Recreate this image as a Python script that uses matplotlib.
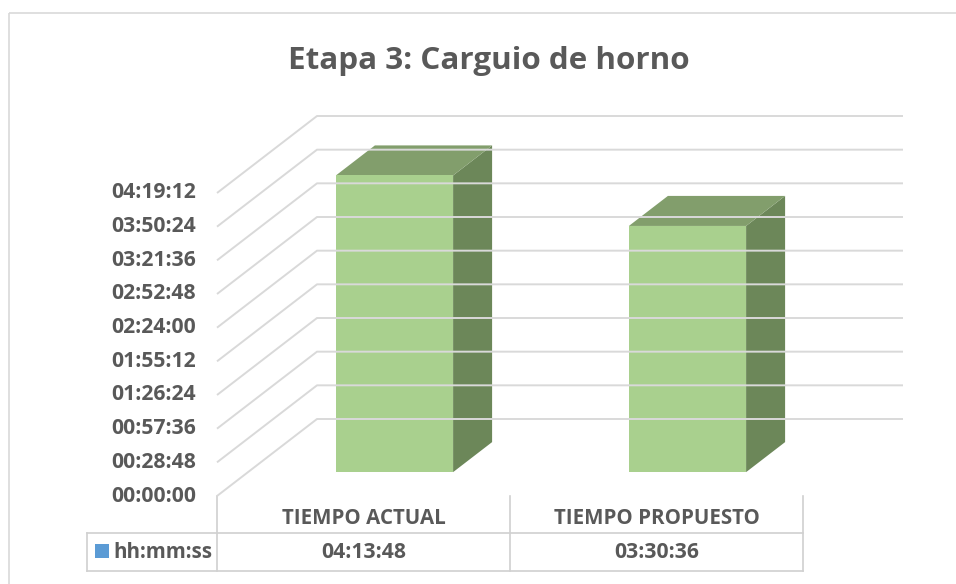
import matplotlib.pyplot as plt
from matplotlib.patches import Polygon, Rectangle

# Datos
categorias = ['TIEMPO ACTUAL', 'TIEMPO PROPUESTO']
tiempos = ['04:13:48', '03:30:36']
serie = 'hh:mm:ss'
titulo = 'Etapa 3: Carguio de horno'
paso_eje = 1728          # 00:28:48 en segundos
n_pasos = 9


def a_segundos(txt):
    h, m, s = (int(p) for p in txt.split(':'))
    return h * 3600 + m * 60 + s


def a_hms(seg):
    seg = int(round(seg))
    return f'{seg // 3600:02d}:{seg % 3600 // 60:02d}:{seg % 60:02d}'


valores = [a_segundos(t) for t in tiempos]

# Estilo
FUENTE = 'Open Sans'
TAM_NUM = 15.2
TAM_TXT = 14.8
GRIS_TXT = '#595959'
GRIS_LINEA = '#D9D9D9'
VERDE_FRENTE = '#A9D08E'
VERDE_TOPE = '#829E6C'
VERDE_LADO = '#6C8759'
AZUL = '#5B9BD5'

W, H = 956, 584
fig = plt.figure(figsize=(W / 100, H / 100), dpi=100)

# Capa en pixeles para marco, titulo y tabla
capa = fig.add_axes([0, 0, 1, 1])
capa.set_xlim(0, W)
capa.set_ylim(H, 0)
capa.axis('off')

# Area de trazado en perspectiva (frente de x=217 a 803 px, fondo desplazado)
izq, base, der, arriba = 217, 496, 903, 116
ax = fig.add_axes([izq / W, 1 - base / H, (der - izq) / W, (base - arriba) / H])
ax.axis('off')

tope = paso_eje * n_pasos
px_cat = (803 - izq) / len(categorias)
DX = 100 / px_cat                     # profundidad en unidades de categoria
DY = 77 * tope / (base - 193)         # profundidad en segundos
ax.set_xlim(0, len(categorias) + DX)
ax.set_ylim(0, tope + DY)

# Lineas de division (suelo inclinado + pared de fondo)
for k in range(n_pasos + 1):
    v = k * paso_eje
    ax.plot([0, DX, len(categorias) + DX], [v, v + DY, v + DY],
            color=GRIS_LINEA, lw=1.4, solid_capstyle='butt', clip_on=False)
    ax.text(-21 / px_cat, v, a_hms(v), ha='right', va='center',
            fontsize=TAM_NUM, fontweight='bold', color=GRIS_TXT, family=FUENTE)

# Columnas 3D
t0, t1 = 0.31, 0.70
ancho = 0.40
ddx, ddy = DX * (t1 - t0), DY * (t1 - t0)
for i, val in enumerate(valores):
    xl = i + 0.5 - ancho / 2 + DX * t0
    xr = xl + ancho
    y0 = DY * t0
    y1 = y0 + val
    ax.add_patch(Polygon([(xr, y0), (xr + ddx, y0 + ddy), (xr + ddx, y1 + ddy), (xr, y1)],
                         closed=True, facecolor=VERDE_LADO, edgecolor='none', clip_on=False))
    ax.add_patch(Polygon([(xl, y1), (xr, y1), (xr + ddx, y1 + ddy), (xl + ddx, y1 + ddy)],
                         closed=True, facecolor=VERDE_TOPE, edgecolor='none', clip_on=False))
    ax.add_patch(Rectangle((xl, y0), ancho, val, facecolor=VERDE_FRENTE,
                           edgecolor='none', clip_on=False))

# Marco del grafico
capa.add_patch(Rectangle((9.5, 12.5), 960, 600, fill=False, edgecolor=GRIS_LINEA, lw=1.2))

# Titulo
capa.text(489, 69, titulo, ha='center', va='baseline', fontsize=22.6,
          fontweight='bold', color=GRIS_TXT, family=FUENTE)

# Tabla de datos
fila1, fila2, fin = base, 533, 571
borde_tabla = '#D0D0D0'
cols = [izq + px_cat * i for i in range(len(categorias) + 1)]
for x in cols:
    capa.plot([x, x], [fila1, fin], color=borde_tabla, lw=1.2)
capa.plot([87, 87], [fila2, fin], color=borde_tabla, lw=1.2)
capa.plot([87, cols[-1]], [fila2, fila2], color=borde_tabla, lw=1.2)
capa.plot([87, cols[-1]], [fin, fin], color=borde_tabla, lw=1.2)

for i, (cat, txt) in enumerate(zip(categorias, tiempos)):
    xc = (cols[i] + cols[i + 1]) / 2
    capa.text(xc, (fila1 + fila2) / 2 + 4, cat, ha='center', va='center',
              fontsize=TAM_TXT, fontweight='bold', color=GRIS_TXT, family=FUENTE)
    capa.text(xc, (fila2 + fin) / 2, txt, ha='center', va='center',
              fontsize=TAM_NUM, fontweight='bold', color=GRIS_TXT, family=FUENTE)

# Clave de la serie
capa.add_patch(Rectangle((95, 543.5), 14, 14, facecolor=AZUL, edgecolor='none'))
capa.text(113, (fila2 + fin) / 2, serie, ha='left', va='center',
          fontsize=TAM_TXT, fontweight='bold', color=GRIS_TXT, family=FUENTE)

fig.savefig('out.png', dpi=100)
